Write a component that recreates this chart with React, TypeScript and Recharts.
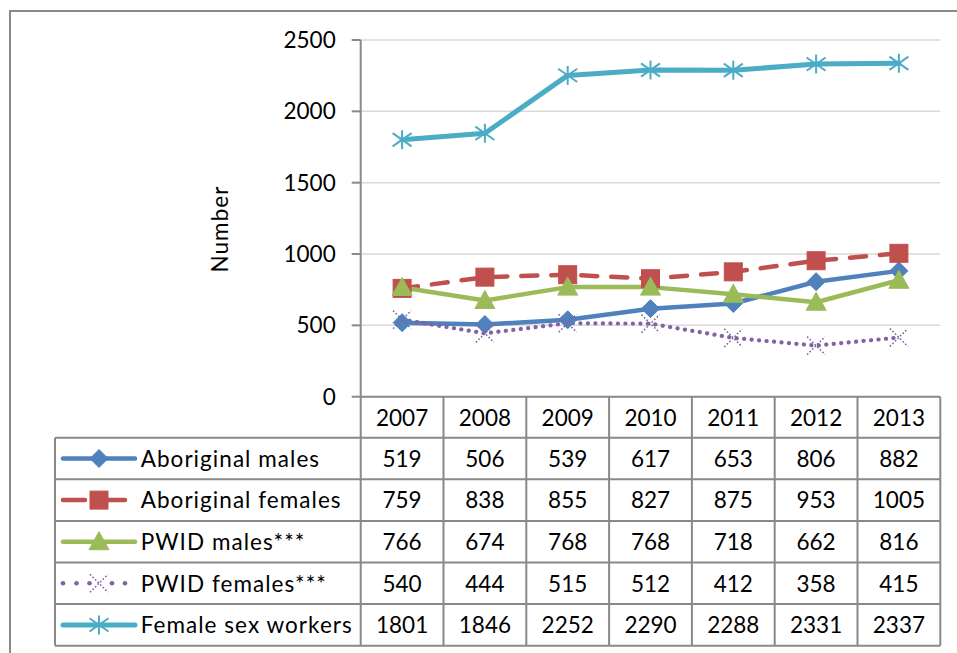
import React from 'react';
import { LineChart, Line, XAxis, YAxis, CartesianGrid } from 'recharts';

// Annual counts per group
const years = [2007, 2008, 2009, 2010, 2011, 2012, 2013];
const aboriginalMales = [519, 506, 539, 617, 653, 806, 882];
const aboriginalFemales = [759, 838, 855, 827, 875, 953, 1005];
const pwidMales = [766, 674, 768, 768, 718, 662, 816];
const pwidFemales = [540, 444, 515, 512, 412, 358, 415];
const femaleSexWorkers = [1801, 1846, 2252, 2290, 2288, 2331, 2337];
const yTicks = [0, 500, 1000, 1500, 2000, 2500];
const yLabel = 'Number';

type Shape = 'diamond' | 'square' | 'triangle' | 'cross' | 'star';

const series: { key: string; name: string; values: number[]; color: string; shape: Shape; width: number; dash?: string }[] = [
  { key: 'am', name: 'Aboriginal males', values: aboriginalMales, color: '#4F81BD', shape: 'diamond', width: 4.5 },
  { key: 'af', name: 'Aboriginal females', values: aboriginalFemales, color: '#C0504D', shape: 'square', width: 4.5, dash: '16 14' },
  { key: 'pm', name: 'PWID males***', values: pwidMales, color: '#9BBB59', shape: 'triangle', width: 4.5 },
  { key: 'pf', name: 'PWID females***', values: pwidFemales, color: '#8064A2', shape: 'cross', width: 4.2, dash: '0.1 7.4' },
  { key: 'fsw', name: 'Female sex workers', values: femaleSexWorkers, color: '#4BACC6', shape: 'star', width: 5 },
];

const data = years.map((year, i) => {
  const row: Record<string, number> = { year };
  series.forEach((s) => {
    row[s.key] = s.values[i];
  });
  return row;
});

// Layout
const W = 957;
const H = 653;
const PLOT_LEFT = 360.7;
const PLOT_RIGHT = 940.3;
const PLOT_TOP = 40;
const PLOT_BOTTOM = 396.7;
const Y_AXIS_W = 60;
const TABLE_LEFT = 55;
const HEADER_H = 41;
const ROW_H = 41.6;
const FONT = 'Lato, "Open Sans", sans-serif';
const FONT_SIZE = 22.5;
const LABEL_SPACING = 1.05;
const BORDER = '#898989';

function Marker({ shape, cx, cy, color }: { shape: Shape; cx: number; cy: number; color: string }) {
  if (cx == null || cy == null) return null;
  switch (shape) {
    case 'diamond': {
      const r = 9;
      return <polygon points={`${cx},${cy - r} ${cx + r},${cy} ${cx},${cy + r} ${cx - r},${cy}`} fill={color} stroke={color} strokeWidth={1} />;
    }
    case 'square': {
      const s = 18;
      return <rect x={cx - s / 2} y={cy - s / 2} width={s} height={s} fill={color} stroke={color} strokeWidth={1} />;
    }
    case 'triangle': {
      const hw = 10;
      return <polygon points={`${cx},${cy - 10} ${cx + hw},${cy + 8} ${cx - hw},${cy + 8}`} fill={color} stroke={color} strokeWidth={1} />;
    }
    case 'cross': {
      const r = 9;
      return (
        <g stroke={color} strokeWidth={1.6} strokeDasharray="1.6 2" fill="none">
          <line x1={cx - r} y1={cy - r} x2={cx + r} y2={cy + r} />
          <line x1={cx - r} y1={cy + r} x2={cx + r} y2={cy - r} />
        </g>
      );
    }
    case 'star': {
      const r = 9.5;
      return (
        <g stroke={color} strokeWidth={2} fill="none">
          <line x1={cx} y1={cy - r} x2={cx} y2={cy + r} />
          <line x1={cx - r} y1={cy - r * 0.7} x2={cx + r} y2={cy + r * 0.7} />
          <line x1={cx - r} y1={cy + r * 0.7} x2={cx + r} y2={cy - r * 0.7} />
        </g>
      );
    }
  }
  return null;
}

function LegendKey({ s, cy }: { s: (typeof series)[number]; cy: number }) {
  const x0 = 63;
  const x1 = 135;
  const cx = 99;
  if (s.shape === 'square') {
    return (
      <g>
        <line x1={x0} y1={cy} x2={85} y2={cy} stroke={s.color} strokeWidth={s.width} strokeLinecap="round" />
        <line x1={100} y1={cy} x2={125} y2={cy} stroke={s.color} strokeWidth={s.width} strokeLinecap="round" />
        <Marker shape={s.shape} cx={cx} cy={cy} color={s.color} />
      </g>
    );
  }
  if (s.shape === 'cross') {
    return (
      <g>
        {[63, 76.5, 89.5, 112, 125].map((x) => (
          <circle key={x} cx={x} cy={cy} r={2.3} fill={s.color} />
        ))}
        <Marker shape={s.shape} cx={cx} cy={cy} color={s.color} />
      </g>
    );
  }
  return (
    <g>
      <line x1={x0} y1={cy} x2={x1} y2={cy} stroke={s.color} strokeWidth={s.width} strokeLinecap="round" />
      <Marker shape={s.shape} cx={cx} cy={cy} color={s.color} />
    </g>
  );
}

function DataTable() {
  const colW = (PLOT_RIGHT - PLOT_LEFT) / years.length;
  const rowsTop = PLOT_BOTTOM + HEADER_H;
  const bottom = rowsTop + series.length * ROW_H;
  return (
    <svg width={W} height={H} style={{ position: 'absolute', left: 0, top: 0, pointerEvents: 'none' }}>
      <text
        transform={`translate(228, 229) rotate(-90)`}
        textAnchor="middle"
        fontFamily={FONT}
        fontSize={FONT_SIZE}
        letterSpacing={LABEL_SPACING}
        fill="#000"
      >
        {yLabel}
      </text>
      {/* table rules */}
      <line x1={PLOT_LEFT} y1={PLOT_BOTTOM} x2={PLOT_RIGHT} y2={PLOT_BOTTOM} stroke={BORDER} strokeWidth={2} />
      {years.map((_, i) => (
        <line key={`v${i}`} x1={PLOT_LEFT + i * colW} y1={PLOT_BOTTOM} x2={PLOT_LEFT + i * colW} y2={bottom} stroke={BORDER} strokeWidth={2} />
      ))}
      <line x1={PLOT_RIGHT} y1={PLOT_BOTTOM} x2={PLOT_RIGHT} y2={bottom} stroke={BORDER} strokeWidth={2} />
      <line x1={TABLE_LEFT} y1={rowsTop} x2={TABLE_LEFT} y2={bottom} stroke={BORDER} strokeWidth={2} />
      {series.map((_, r) => (
        <line key={`h${r}`} x1={TABLE_LEFT} y1={rowsTop + r * ROW_H} x2={PLOT_RIGHT} y2={rowsTop + r * ROW_H} stroke={BORDER} strokeWidth={2} />
      ))}
      <line x1={TABLE_LEFT} y1={bottom} x2={PLOT_RIGHT} y2={bottom} stroke={BORDER} strokeWidth={2} />
      {/* header */}
      {years.map((y, i) => (
        <text key={`y${y}`} x={PLOT_LEFT + (i + 0.5) * colW} y={PLOT_BOTTOM + HEADER_H / 2 + 8.3} textAnchor="middle" fontFamily={FONT} fontSize={FONT_SIZE} fill="#000">
          {y}
        </text>
      ))}
      {/* rows */}
      {series.map((s, r) => {
        const cy = rowsTop + (r + 0.5) * ROW_H;
        return (
          <g key={s.key}>
            <LegendKey s={s} cy={cy} />
            <text x={140.7} y={cy + 8.3} fontFamily={FONT} fontSize={FONT_SIZE} letterSpacing={LABEL_SPACING} fill="#000">
              {s.name}
            </text>
            {s.values.map((v, i) => (
              <text key={i} x={PLOT_LEFT + (i + 0.5) * colW} y={cy + 8.3} textAnchor="middle" fontFamily={FONT} fontSize={FONT_SIZE} fill="#000">
                {v}
              </text>
            ))}
          </g>
        );
      })}
    </svg>
  );
}

export default function App() {
  return (
    <div style={{ position: 'absolute', left: 0, top: 0, width: W, height: H, overflow: 'hidden', background: '#fff' }}>
      <div style={{ position: 'absolute', left: 9, top: 10, width: 1000, height: 700, border: `2px solid ${BORDER}` }} />
      <LineChart
        width={W}
        height={H}
        data={data}
        margin={{ top: PLOT_TOP, right: W - PLOT_RIGHT, bottom: H - PLOT_BOTTOM, left: PLOT_LEFT - Y_AXIS_W }}
        style={{ position: 'absolute', left: 0, top: 0 }}
      >
        <CartesianGrid vertical={false} stroke="#d9d9d9" strokeWidth={1.5} />
        <XAxis dataKey="year" type="number" domain={[2006.5, 2013.5]} height={0} tick={false} tickLine={false} axisLine={false} allowDataOverflow />
        <YAxis
          width={Y_AXIS_W}
          domain={[0, 2500]}
          ticks={yTicks}
          interval={0}
          tickSize={9}
          tickMargin={16}
          axisLine={{ stroke: BORDER, strokeWidth: 2 }}
          tickLine={{ stroke: BORDER, strokeWidth: 2 }}
          tick={{ fill: '#000', fontSize: FONT_SIZE, fontFamily: FONT }}
        />
        {series.map((s) => (
          <Line
            key={s.key}
            dataKey={s.key}
            name={s.name}
            stroke={s.color}
            strokeWidth={s.width}
            strokeDasharray={s.dash}
            strokeLinecap="round"
            strokeLinejoin="round"
            isAnimationActive={false}
            activeDot={false}
            dot={(p: any) => <Marker key={`${s.key}-${p.index}`} shape={s.shape} cx={p.cx} cy={p.cy} color={s.color} />}
          />
        ))}
      </LineChart>
      <DataTable />
    </div>
  );
}
